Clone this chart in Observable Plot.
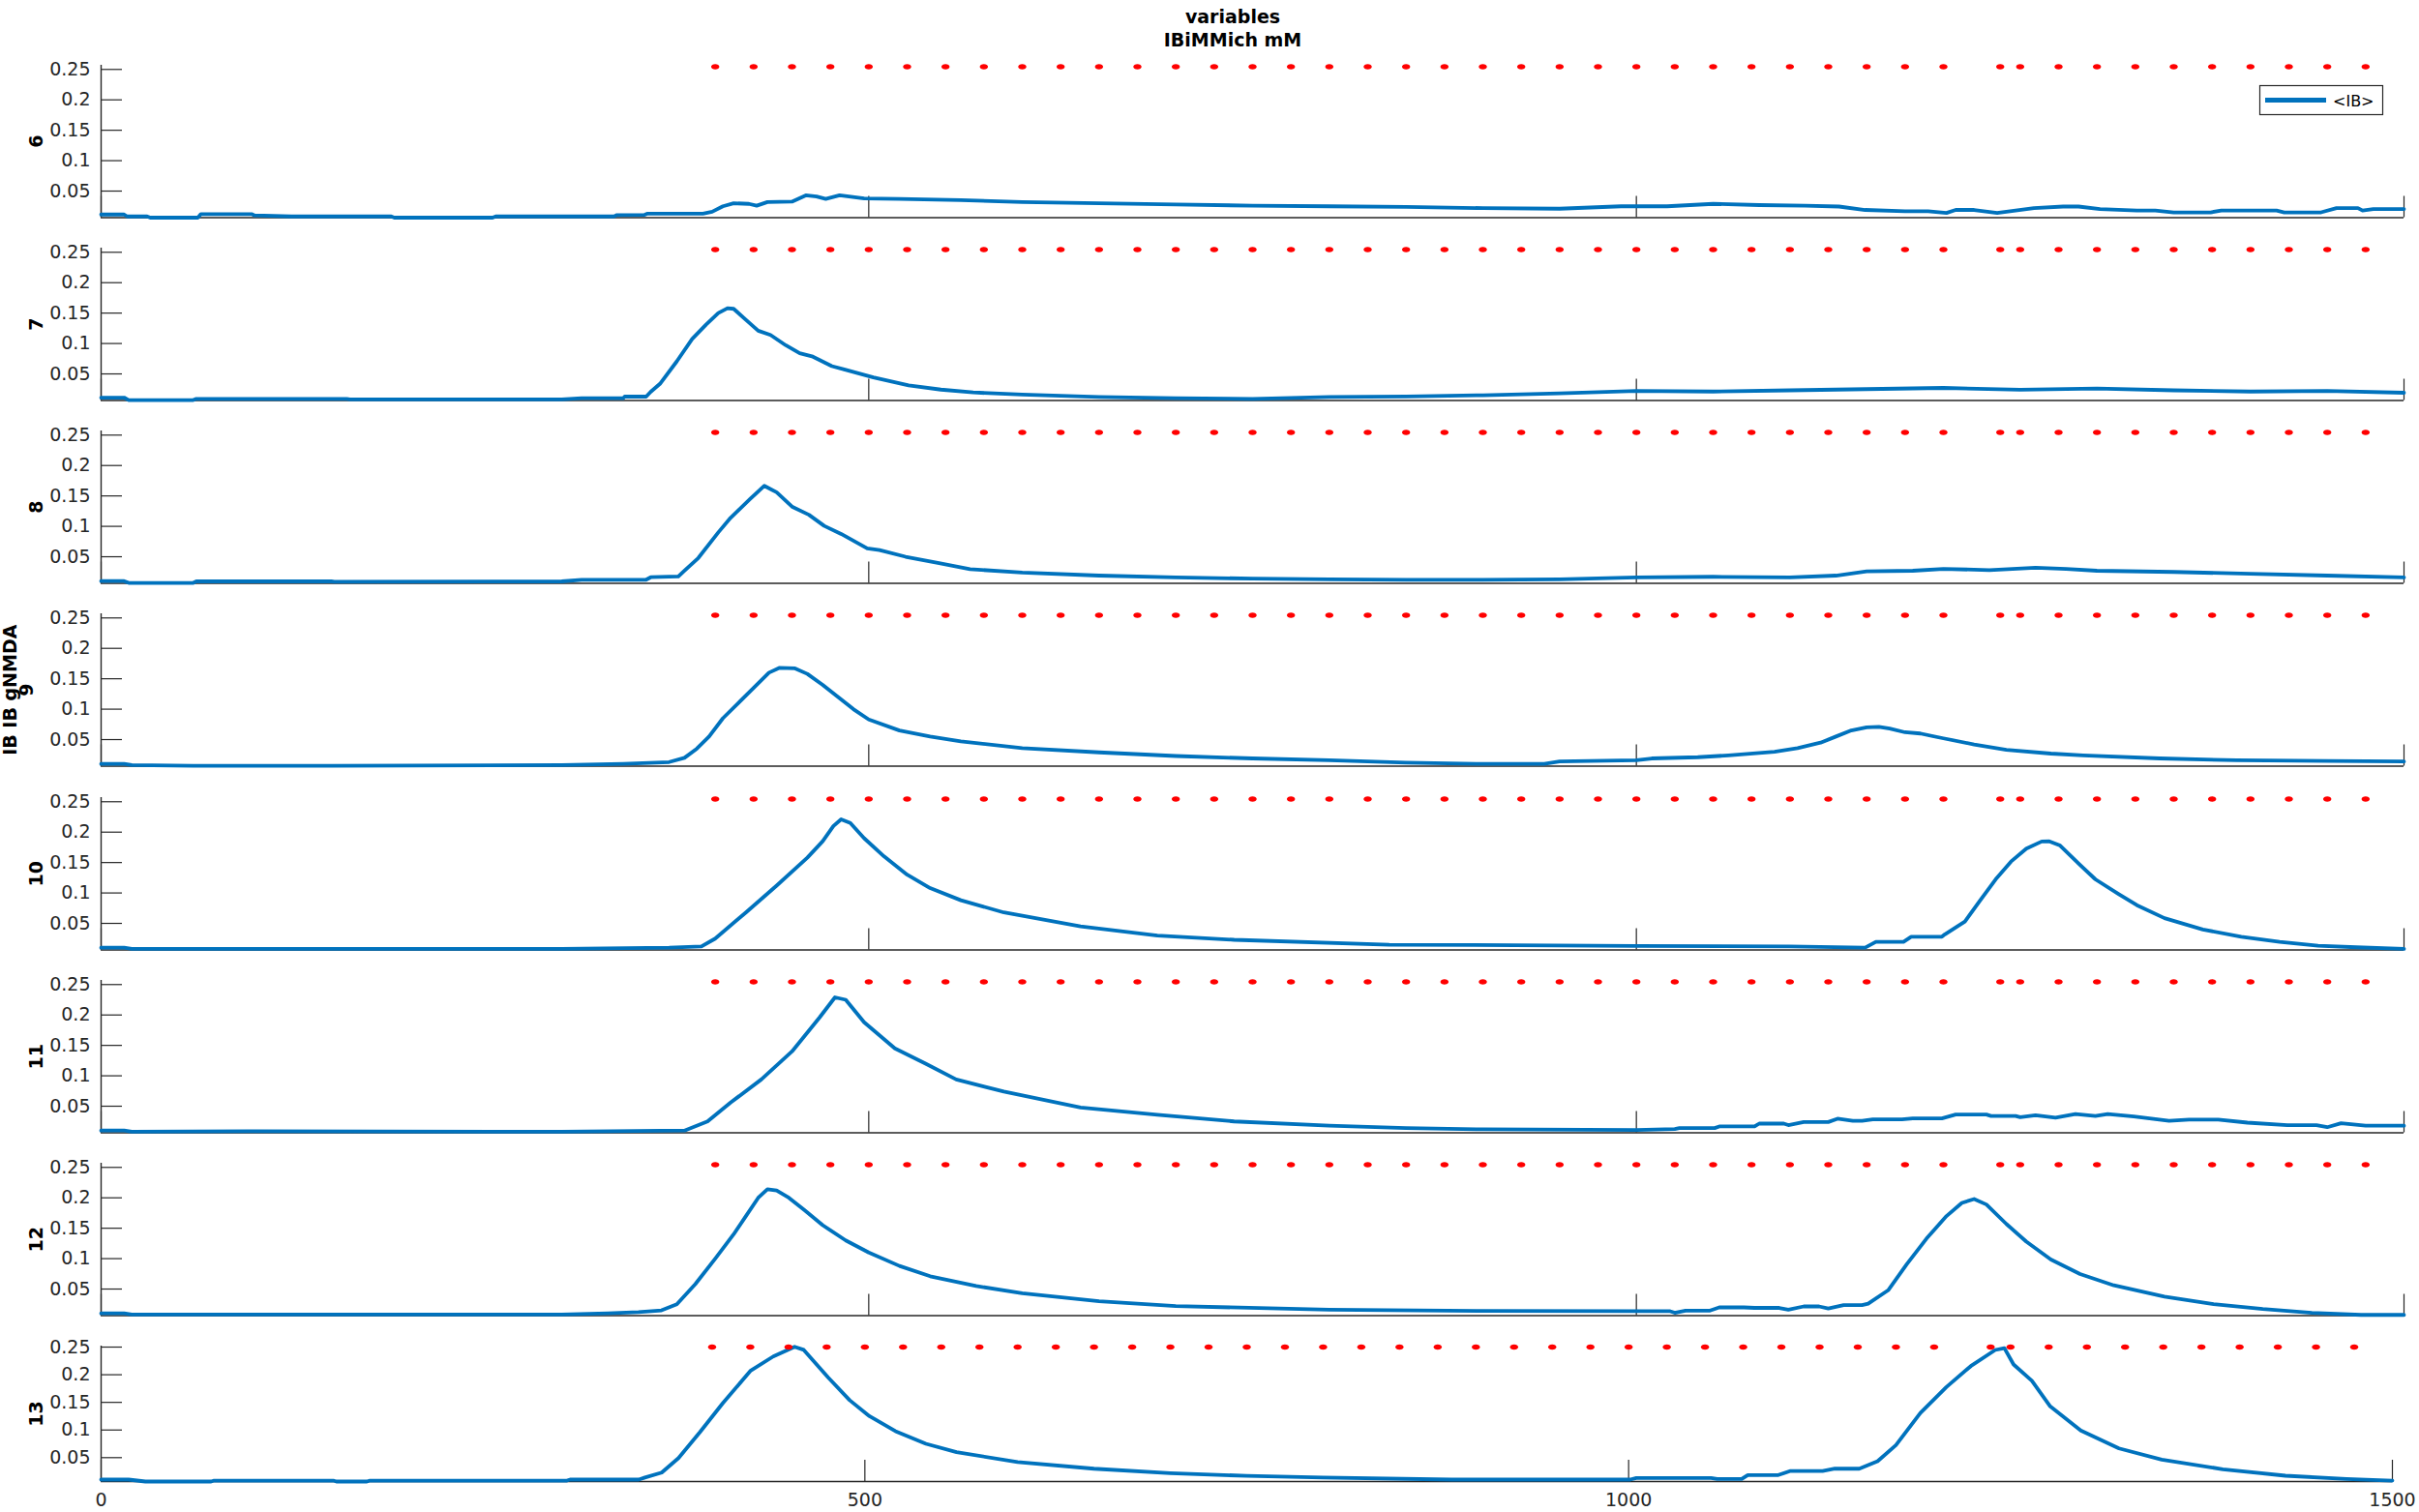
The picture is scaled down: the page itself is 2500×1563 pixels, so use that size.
<!DOCTYPE html>
<html><head><meta charset="utf-8">
<script src="https://cdn.jsdelivr.net/npm/d3@7"></script>
<script src="https://cdn.jsdelivr.net/npm/@observablehq/plot@0.6"></script>
<style>
html,body{margin:0;padding:0;background:#fff;}
#fig{position:relative;width:2500px;height:1563px;background:#fff;overflow:hidden;font-family:"DejaVu Sans",sans-serif;}
#fig svg{position:absolute;left:0;}
</style></head>
<body><div id="fig"></div>
<script>
// ---- data ----
const panelLabels = ["6","7","8","9","10","11","12","13"];
const yTicks = [0.05, 0.1, 0.15, 0.2, 0.25];
const xTicks = [0, 500, 1000, 1500];
const xTickLabels = ["0","500","1000","1500"];
const dotsX = [400,425,450,475,500,525,550,575,600,625,650,675,700,725,750,775,800,825,850,875,900,925,950,975,1000,1025,1050,1075,1100,1125,1150,1175,1200,1237,1250,1275,1300,1325,1350,1375,1400,1425,1450,1475];
const dotLevels = [0.2545,0.2545,0.2545,0.2545,0.2545,0.2545,0.2545,0.25];
const titleLines = ["variables","IBiMMich mM"];
const legendLabel = "<IB>";
const extraLabel9 = "IB IB gNMDA";

const t6 = [0,15,17,30,32,63,65,98,100,124,189,191,255,257,334,336,354,356,392,398,405,412,422,427,434,450,459,466,472,481,497,520,560,600,650,700,750,800,850,900,950,990,1020,1050,1080,1110,1132,1149,1175,1190,1202,1208,1220,1235,1259,1278,1288,1302,1326,1338,1350,1374,1381,1417,1422,1446,1456,1470,1473,1480,1500];
const v6 = [0.0115,0.0115,0.0083,0.0083,0.0063,0.0063,0.0121,0.0121,0.010,0.0083,0.0083,0.0063,0.0063,0.0083,0.0083,0.0105,0.011,0.013,0.013,0.016,0.025,0.030,0.029,0.026,0.032,0.0327,0.043,0.041,0.037,0.043,0.038,0.037,0.035,0.032,0.030,0.028,0.026,0.025,0.024,0.022,0.021,0.025,0.025,0.029,0.027,0.026,0.0246,0.019,0.0167,0.0167,0.014,0.019,0.019,0.014,0.022,0.0246,0.0246,0.0205,0.018,0.018,0.015,0.015,0.018,0.018,0.015,0.015,0.022,0.022,0.018,0.0205,0.0205];

const t7 = [0,15,18,60,62,160,162,300,313,340,341,355,358,364,375,385,394,402,408,412,420,428,436,446,455,463,476,484,503,526,547,568,600,650,700,750,800,850,900,950,1000,1050,1100,1150,1200,1250,1300,1350,1400,1450,1500];
const v7 = [0.011,0.011,0.007,0.007,0.009,0.009,0.008,0.008,0.010,0.010,0.0127,0.0127,0.0206,0.0337,0.0707,0.1076,0.131,0.150,0.158,0.157,0.139,0.121,0.114,0.097,0.084,0.079,0.0628,0.0575,0.0443,0.031,0.0242,0.0195,0.016,0.012,0.010,0.009,0.012,0.013,0.015,0.018,0.022,0.021,0.023,0.025,0.027,0.024,0.026,0.023,0.021,0.022,0.019];

const t8 = [0,15,18,60,62,150,152,300,313,355,358,376,380,389,402,410,423,432,440,450,461,471,482,499,507,524,545,566,600,650,700,750,800,850,900,950,1000,1050,1100,1130,1150,1180,1200,1230,1260,1280,1300,1350,1400,1450,1500];
const v8 = [0.010,0.010,0.007,0.007,0.0095,0.0095,0.009,0.0095,0.0122,0.0122,0.0163,0.0175,0.027,0.048,0.090,0.114,0.1456,0.1666,0.156,0.1324,0.119,0.1007,0.0875,0.0638,0.061,0.050,0.040,0.0296,0.024,0.019,0.016,0.014,0.013,0.012,0.012,0.013,0.016,0.017,0.016,0.019,0.026,0.027,0.030,0.028,0.032,0.030,0.027,0.025,0.022,0.019,0.016];

const t9 = [0,15,20,60,150,300,340,370,380,388,396,405,415,425,435,442,452,460,470,480,490,500,520,540,560,600,650,700,750,800,850,900,940,950,1000,1010,1040,1060,1090,1105,1120,1130,1140,1150,1158,1165,1175,1185,1200,1220,1241,1270,1291,1341,1391,1450,1500];
const v9 = [0.010,0.010,0.008,0.007,0.007,0.008,0.010,0.013,0.020,0.035,0.055,0.085,0.110,0.135,0.160,0.168,0.167,0.158,0.140,0.120,0.100,0.083,0.065,0.055,0.047,0.036,0.029,0.023,0.019,0.016,0.012,0.010,0.010,0.014,0.016,0.019,0.021,0.024,0.030,0.036,0.045,0.055,0.065,0.070,0.071,0.068,0.062,0.060,0.052,0.042,0.033,0.027,0.024,0.019,0.016,0.015,0.014];

const t10 = [0,15,20,100,300,370,391,400,420,440,460,470,477,482,488,497,510,525,540,560,588,638,688,738,839,1000,1100,1149,1156,1174,1179,1199,1201,1214,1224,1234,1244,1254,1264,1269,1276,1289,1299,1314,1326,1344,1369,1394,1419,1444,1469,1500];
const v10 = [0.010,0.010,0.008,0.008,0.008,0.010,0.012,0.025,0.068,0.112,0.158,0.185,0.210,0.221,0.215,0.190,0.160,0.130,0.108,0.088,0.068,0.045,0.030,0.023,0.015,0.013,0.012,0.010,0.0197,0.0197,0.028,0.028,0.032,0.053,0.088,0.1224,0.1516,0.173,0.1846,0.1848,0.178,0.146,0.1224,0.0985,0.080,0.0586,0.040,0.028,0.0197,0.0133,0.0107,0.008];

const t11 = [0,15,20,100,300,380,395,410,430,450,468,478,485,497,517,537,557,588,638,688,738,800,850,900,1000,1025,1028,1051,1054,1077,1080,1096,1099,1109,1125,1131,1141,1147,1154,1173,1180,1199,1208,1228,1231,1247,1250,1260,1273,1286,1299,1307,1324,1347,1360,1379,1398,1424,1443,1450,1459,1475,1500];
const v11 = [0.010,0.010,0.008,0.009,0.008,0.010,0.025,0.056,0.094,0.140,0.196,0.229,0.225,0.188,0.145,0.120,0.094,0.074,0.048,0.036,0.025,0.018,0.014,0.012,0.011,0.0124,0.014,0.014,0.0167,0.0167,0.0214,0.0214,0.019,0.024,0.024,0.0294,0.026,0.026,0.0283,0.0283,0.030,0.030,0.0363,0.0363,0.034,0.034,0.032,0.035,0.031,0.037,0.034,0.037,0.033,0.026,0.028,0.028,0.023,0.0187,0.0187,0.0155,0.022,0.018,0.018];

const t12 = [0,15,20,300,330,350,365,375,387,400,412,420,428,434,440,448,458,470,485,500,520,540,570,600,650,700,800,900,1006,1022,1025,1032,1048,1054,1070,1077,1093,1099,1109,1119,1125,1135,1147,1151,1164,1176,1189,1202,1212,1220,1228,1241,1254,1270,1289,1311,1344,1376,1408,1440,1472,1500];
const v12 = [0.010,0.010,0.008,0.008,0.010,0.012,0.015,0.025,0.058,0.100,0.140,0.170,0.200,0.214,0.212,0.200,0.180,0.155,0.130,0.110,0.088,0.071,0.055,0.043,0.030,0.022,0.016,0.014,0.0135,0.0135,0.011,0.0146,0.0146,0.0198,0.0198,0.019,0.019,0.016,0.0214,0.0214,0.018,0.0235,0.0235,0.026,0.048,0.0905,0.133,0.170,0.1916,0.198,0.189,0.157,0.128,0.0985,0.0746,0.0561,0.0374,0.0251,0.0171,0.011,0.0075,0.0075];

const t13 = [0,18,29,72,74,152,154,174,176,305,307,352,356,367,378,392,407,425,440,454,460,476,490,503,520,540,560,600,650,700,750,800,884,1001,1005,1054,1058,1074,1078,1098,1106,1127,1135,1151,1163,1175,1191,1208,1224,1240,1246,1252,1264,1276,1296,1321,1349,1389,1430,1470,1500];
const v13 = [0.0103,0.0103,0.0068,0.0068,0.0085,0.0085,0.0068,0.0068,0.0085,0.0085,0.0103,0.0103,0.014,0.023,0.0493,0.096,0.1485,0.2068,0.233,0.2505,0.245,0.195,0.154,0.125,0.098,0.075,0.060,0.042,0.030,0.022,0.017,0.014,0.0103,0.0103,0.0132,0.0132,0.0115,0.0115,0.0185,0.0185,0.026,0.026,0.030,0.030,0.0435,0.0727,0.131,0.1777,0.2156,0.2448,0.248,0.2185,0.189,0.1427,0.099,0.0668,0.0465,0.029,0.0173,0.0115,0.0085];

const series = [[t6,v6],[t7,v7],[t8,v8],[t9,v9],[t10,v10],[t11,v11],[t12,v12],[t13,v13]];

// ---- layout (pixels) ----
const W = 2500, ML = 104;
const axisColor = "#262626";
const fig = document.getElementById("fig");

const ellipse = {draw(ctx, size){
  const r = Math.sqrt(size/Math.PI), rx = r*1.25, ry = r*0.8, k = 0.5523;
  ctx.moveTo(rx,0);
  ctx.bezierCurveTo(rx, ry*k, rx*k, ry, 0, ry);
  ctx.bezierCurveTo(-rx*k, ry, -rx, ry*k, -rx, 0);
  ctx.bezierCurveTo(-rx, -ry*k, -rx*k, -ry, 0, -ry);
  ctx.bezierCurveTo(rx*k, -ry, rx, -ry*k, rx, 0);
  ctx.closePath();
}};

series.forEach(([ts, vs], i) => {
  const last = i === 7;
  const frameTop = last ? 1391 : 66.5 + 189.25*i;
  const fh = last ? 140 : 157.5;
  const mr = last ? 28 : 16;
  const mt = 10, mb = last ? 45 : 10;
  const fw = W - ML - mr;
  const yDom = last ? [0.0068, 0.2518] : [0.0063, 0.2568];
  const data = ts.map((t, j) => ({x: t, y: vs[j]}));
  const marks = [
    Plot.ruleX([0], {stroke: axisColor, strokeWidth: 1.4}),
    Plot.ruleY([yDom[0]], {stroke: axisColor, strokeWidth: 1.4}),
    Plot.tickY(yTicks, {y: d => d, insetRight: fw - 22, stroke: axisColor, strokeWidth: 1.2}),
    Plot.tickX(xTicks, {x: d => d, insetTop: fh - 22, stroke: axisColor, strokeWidth: 1.2}),
    Plot.axisY(yTicks, {tickSize: 0, tickPadding: 11, tickFormat: d => String(d), fontSize: 19, fill: axisColor, label: null}),
    Plot.line(data, {x: "x", y: "y", stroke: "#0072BD", strokeWidth: 3.8, strokeLinejoin: "round"}),
    Plot.dot(dotsX, {x: d => d, y: () => dotLevels[i], r: 3.4, fill: "#ff0000", stroke: null, symbol: ellipse}),
    Plot.text([panelLabels[i]], {text: d => d, frameAnchor: "left", dx: i === 3 ? -71 : -61, rotate: -90, lineAnchor: "bottom", textAnchor: "middle", fontWeight: "bold", fontSize: 19, fill: "#000"})
  ];
  if (i === 3) marks.push(Plot.text([extraLabel9], {text: d => d, frameAnchor: "left", dx: -88, rotate: -90, lineAnchor: "bottom", textAnchor: "middle", fontWeight: "bold", fontSize: 19, fill: "#000"}));
  if (last) marks.push(Plot.axisX(xTicks, {tickSize: 0, tickPadding: 12, tickFormat: (d, k) => xTickLabels[k], fontSize: 19, fill: axisColor, label: null}));
  const svg = Plot.plot({
    width: W, height: mt + fh + mb,
    marginLeft: ML, marginRight: mr, marginTop: mt, marginBottom: mb,
    x: {domain: [0, 1500], axis: null},
    y: {domain: yDom, axis: null},
    style: {fontFamily: "DejaVu Sans", background: "transparent", overflow: "visible", color: axisColor},
    marks
  });
  svg.style.top = (frameTop - mt) + "px";
  fig.appendChild(svg);
});

// ---- title + legend overlay ----
const ov = d3.select(fig).append("svg").attr("width", W).attr("height", 140)
  .style("top", "0px").style("font-family", "DejaVu Sans");
ov.selectAll("text.t").data(titleLines).join("text").attr("class","t")
  .attr("x", 1274).attr("y", (d, k) => 24 + k*23.5)
  .attr("text-anchor", "middle").attr("font-weight", "bold").attr("font-size", 19).attr("fill", "#000")
  .text(d => d);
const lg = ov.append("g");
lg.append("rect").attr("x", 2335.5).attr("y", 88.5).attr("width", 127).attr("height", 30)
  .attr("fill", "#fff").attr("stroke", axisColor).attr("stroke-width", 1.2);
lg.append("line").attr("x1", 2341).attr("x2", 2404).attr("y1", 103.5).attr("y2", 103.5)
  .attr("stroke", "#0072BD").attr("stroke-width", 5);
lg.append("text").attr("x", 2411).attr("y", 109.5).attr("font-size", 16).attr("fill", "#000").text(legendLabel);
</script>
</body></html>
